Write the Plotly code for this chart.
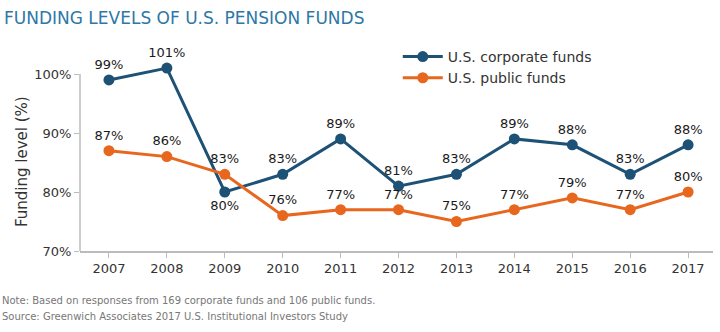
import plotly.graph_objects as go

years = [2007, 2008, 2009, 2010, 2011, 2012, 2013, 2014, 2015, 2016, 2017]
corporate = [99, 101, 80, 83, 89, 81, 83, 89, 88, 83, 88]
public = [87, 86, 83, 76, 77, 77, 75, 77, 79, 77, 80]
corp_pos = ["top center"] * 11
corp_pos[2] = "bottom center"
pub_pos = ["top center"] * 11
notes = ["Note: Based on responses from 169 corporate funds and 106 public funds.",
         "Source: Greenwich Associates 2017 U.S. Institutional Investors Study"]

BLUE = "#1d5276"
ORANGE = "#e8671e"
FONT = "'DejaVu Sans', sans-serif"

fig = go.Figure()
fig.add_trace(go.Scatter(
    x=years, y=corporate, mode="lines+markers+text", name="U.S. corporate funds",
    line=dict(color=BLUE, width=3), marker=dict(size=11, color=BLUE),
    text=[f"{v}%" for v in corporate], textposition=corp_pos,
    textfont=dict(size=13, color="#1a1a1a", family=FONT), cliponaxis=False))
fig.add_trace(go.Scatter(
    x=years, y=public, mode="lines+markers+text", name="U.S. public funds",
    line=dict(color=ORANGE, width=3), marker=dict(size=11, color=ORANGE),
    text=[f"{v}%" for v in public], textposition=pub_pos,
    textfont=dict(size=13, color="#1a1a1a", family=FONT), cliponaxis=False))

fig.update_layout(
    width=720, height=332,
    margin=dict(l=80, r=7, t=50, b=81),
    paper_bgcolor="white", plot_bgcolor="white",
    font=dict(family=FONT, color="#333"),
    showlegend=True,
    legend=dict(x=0.502, y=1.045, xanchor="left", yanchor="top",
                font=dict(size=14, color="#333", family=FONT),
                bgcolor="rgba(0,0,0,0)", tracegroupgap=6, itemwidth=40),
    xaxis=dict(range=[2006.5, 2017.43], tickvals=years, ticktext=[str(y) for y in years],
               showline=True, linecolor="#bbb", linewidth=1.5, showgrid=False, zeroline=False,
               ticks="outside", ticklen=5, tickcolor="#bbb",
               tickfont=dict(size=13, color="#333")),
    yaxis=dict(range=[70, 104.07], tickvals=[70, 80, 90, 100],
               ticktext=["70%", "80%", "90%", "100%"],
               showline=False, showgrid=False, zeroline=False,
               ticks="outside", ticklen=5, tickcolor="#bbb",
               tickfont=dict(size=13, color="#333")),
)

fig.add_shape(type="line", xref="paper", yref="y", x0=0, x1=0, y0=70, y1=100,
              line=dict(color="#bbb", width=1.5))

PW, PH = 633, 201
fig.add_annotation(text="Funding level (%)", textangle=-90,
                   x=-(80-22)/PW, y=(251-162)/PH, xref="paper", yref="paper",
                   xanchor="center", yanchor="middle", showarrow=False,
                   font=dict(size=15, color="#333", family=FONT))
fig.add_annotation(text="FUNDING LEVELS OF U.S. PENSION FUNDS",
                   x=-78/PW, y=1 + (50-18)/PH, xref="paper", yref="paper",
                   xanchor="left", yanchor="middle", showarrow=False,
                   font=dict(size=17, color="#2e77a6", family=FONT))
for i, line in enumerate(notes):
    fig.add_annotation(text=line,
                       x=-80/PW, y=-(300 + 16*i - 251)/PH, xref="paper", yref="paper",
                       xanchor="left", yanchor="middle", align="left", showarrow=False,
                       font=dict(size=10, color="#777", family=FONT))

fig.write_html("out.html")
